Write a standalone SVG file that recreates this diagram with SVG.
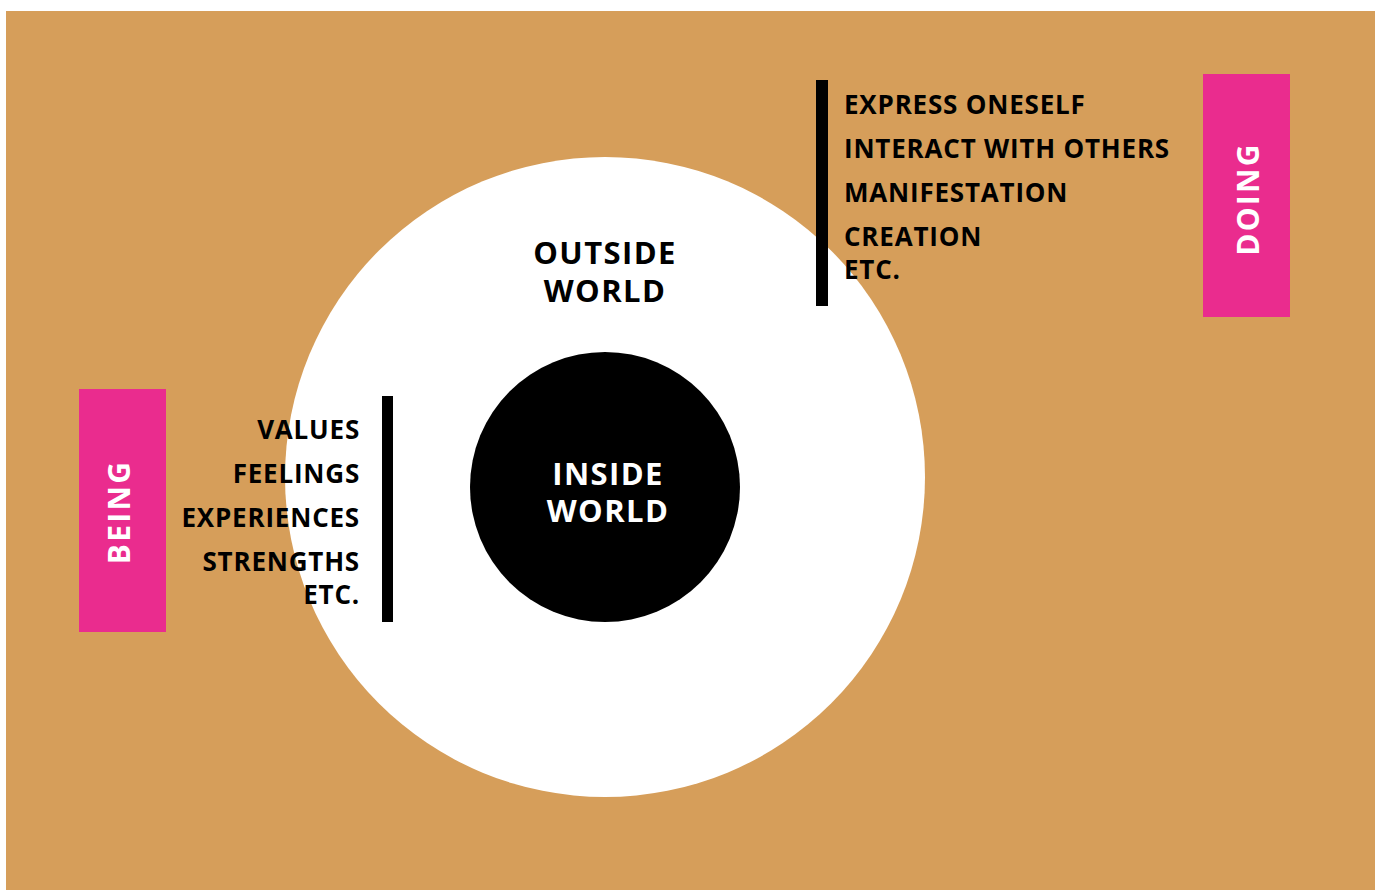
<svg xmlns="http://www.w3.org/2000/svg" width="1381" height="891" viewBox="0 0 1381 891">
  <style>
    .lbl { font-family: "Open Sans", "Liberation Sans", sans-serif; font-weight: 700; fill: #000; font-size: 26px; letter-spacing: 0.8px; }
    .big { font-family: "Open Sans", "Liberation Sans", sans-serif; font-weight: 700; font-size: 31px; letter-spacing: 1.4px; text-anchor: middle; }
    .tag { font-family: "Open Sans", "Liberation Sans", sans-serif; font-weight: 700; font-size: 30px; letter-spacing: 2.3px; fill: #fff; text-anchor: middle; }
    .pink { fill: #EA2C8E; }
    .bar { fill: #000; }
  </style>
  <rect x="0" y="0" width="1381" height="891" fill="#fff"/>
  <rect x="6" y="11" width="1369" height="879" fill="#D69E5A"/>

  <g id="outside-world">
    <circle cx="605" cy="477" r="320" fill="#fff"/>
    <text class="big" x="605" y="264" fill="#000">OUTSIDE</text>
    <text class="big" x="605" y="302" fill="#000">WORLD</text>
  </g>

  <g id="inside-world">
    <circle cx="605" cy="487" r="135" fill="#000"/>
    <text class="big" x="608" y="485" fill="#fff">INSIDE</text>
    <text class="big" x="608" y="522" fill="#fff">WORLD</text>
  </g>

  <g id="being-list">
    <rect class="bar" x="382" y="396" width="11" height="226"/>
    <g class="lbl" text-anchor="end">
      <text x="360" y="439">VALUES</text>
      <text x="360" y="483">FEELINGS</text>
      <text x="360" y="527">EXPERIENCES</text>
      <text x="360" y="571">STRENGTHS</text>
      <text x="360" y="604">ETC.</text>
    </g>
  </g>

  <g id="doing-list">
    <rect class="bar" x="816" y="80" width="12" height="226"/>
    <g class="lbl">
      <text x="844" y="114">EXPRESS ONESELF</text>
      <text x="844" y="158">INTERACT WITH OTHERS</text>
      <text x="844" y="202">MANIFESTATION</text>
      <text x="844" y="246">CREATION</text>
      <text x="844" y="279">ETC.</text>
    </g>
  </g>

  <g id="being">
    <rect class="pink" x="79" y="389" width="87" height="243"/>
    <text class="tag" transform="translate(130,512) rotate(-90)">BEING</text>
  </g>

  <g id="doing">
    <rect class="pink" x="1203" y="74" width="87" height="243"/>
    <text class="tag" transform="translate(1259,199) rotate(-90)">DOING</text>
  </g>

  <g id="connectors"></g>
</svg>
